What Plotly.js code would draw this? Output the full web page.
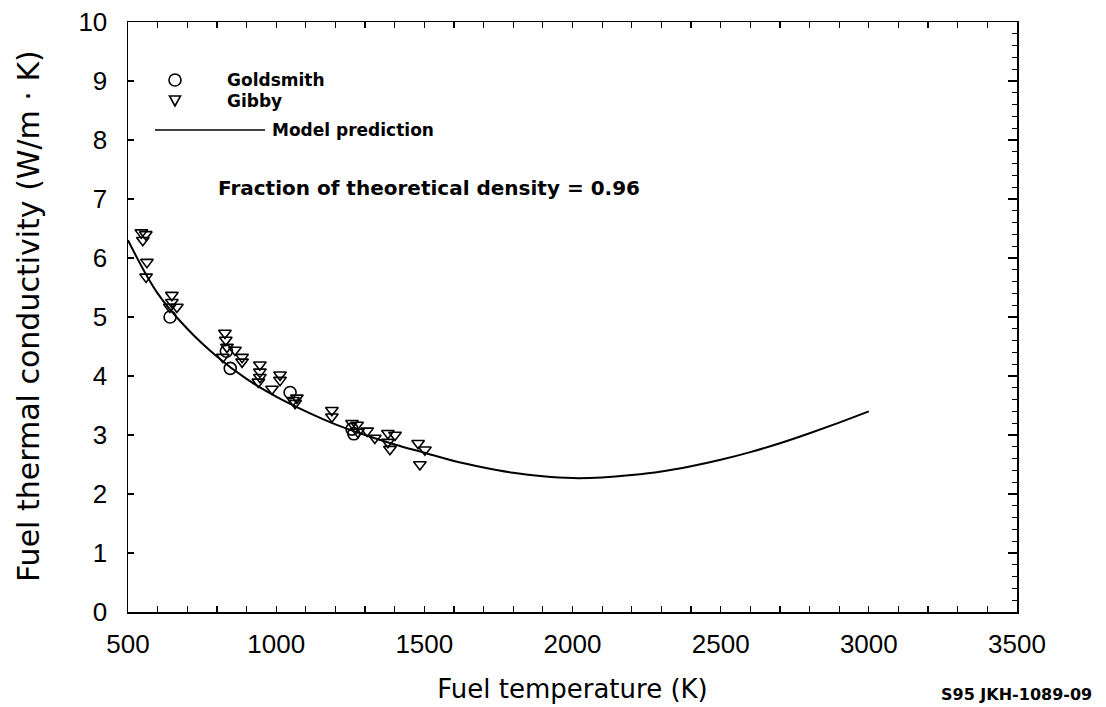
<!DOCTYPE html>
<html>
<head>
<meta charset="utf-8">
<script src="https://cdn.plot.ly/plotly-3.0.1.min.js"></script>
<style>html,body{margin:0;padding:0;background:#fff;}#chart{width:1106px;height:707px;}</style>
</head>
<body>
<div id="chart"></div>
<script>
// Model prediction curve
const modelT = [500,600,700,800,900,1000,1100,1200,1300,1400,1500,1600,1700,1800,1900,2000,2100,2200,2300,2400,2500,2600,2700,2800,2900,3000];
const modelK = [6.30,5.40,4.80,4.33,3.95,3.65,3.40,3.18,3.00,2.84,2.70,2.56,2.45,2.36,2.30,2.27,2.28,2.32,2.38,2.47,2.58,2.71,2.86,3.03,3.21,3.40];

// Goldsmith data (circles)
const goldT = [642,845,832,1047,1256,1262];
const goldK = [5.00,4.13,4.42,3.72,3.10,3.02];

// Gibby data (triangles)
const gibbyT = [545,560,550,564,561,648,648,641,665,827,830,834,820,861,885,885,945,945,945,940,986,1013,1013,1057,1064,1070,1188,1188,1256,1273,1276,1307,1333,1377,1401,1377,1384,1479,1502,1485];
const gibbyK = [6.43,6.40,6.30,5.93,5.68,5.37,5.25,5.17,5.17,4.73,4.61,4.49,4.32,4.44,4.32,4.24,4.19,4.07,3.98,3.90,3.78,4.02,3.93,3.59,3.54,3.63,3.42,3.31,3.20,3.17,3.05,3.07,2.95,3.03,3.00,2.88,2.76,2.86,2.75,2.50];

const xTicks = [500,1000,1500,2000,2500,3000,3500];
const yTicks = [0,1,2,3,4,5,6,7,8,9,10];

const FONT = 'Liberation Sans, Arial, Helvetica, sans-serif';
const WIDE = 'DejaVu Sans, Verdana, sans-serif';

const traces = [
  {x: modelT, y: modelK, mode: 'lines', line: {color: '#000', width: 2, shape: 'spline'}, name: 'Model prediction', showlegend: false, hoverinfo: 'skip'},
  {x: gibbyT, y: gibbyK, mode: 'markers', marker: {symbol: 'triangle-down-open', size: 11, color: '#000', line: {width: 1.6, color: '#000'}}, name: 'Gibby', showlegend: false},
  {x: goldT, y: goldK, mode: 'markers', marker: {symbol: 'circle-open', size: 12, color: '#000', line: {width: 1.6, color: '#000'}}, name: 'Goldsmith', showlegend: false},
  {x: [], y: [], yaxis: 'y2', mode: 'lines', showlegend: false, hoverinfo: 'skip'}
];

// pixel -> paper helpers for legend decoration
const L = 128, R = 1017, T = 22, B = 612;
const px = v => (v - L) / (R - L);
const py = v => (B - v) / (B - T);

const shapes = [
  {type: 'circle', xref: 'paper', yref: 'paper', x0: px(169), x1: px(181), y0: py(86), y1: py(74), line: {color: '#000', width: 1.6}},
  {type: 'path', xref: 'paper', yref: 'paper', path: `M ${px(169.5)} ${py(96)} L ${px(180.5)} ${py(96)} L ${px(175)} ${py(106)} Z`, line: {color: '#000', width: 1.6}},
  {type: 'line', xref: 'paper', yref: 'paper', x0: px(155), x1: px(265), y0: py(130), y1: py(130), line: {color: '#000', width: 1.6}}
];

const annFont = {family: WIDE, size: 17, color: '#000', weight: 'bold'};
const annotations = [
  {xref: 'paper', yref: 'paper', x: px(225), y: py(80), xanchor: 'left', yanchor: 'middle', text: 'Goldsmith', showarrow: false, font: annFont},
  {xref: 'paper', yref: 'paper', x: px(225), y: py(101), xanchor: 'left', yanchor: 'middle', text: 'Gibby', showarrow: false, font: annFont},
  {xref: 'paper', yref: 'paper', x: px(270), y: py(130), xanchor: 'left', yanchor: 'middle', text: 'Model prediction', showarrow: false, font: annFont},
  {xref: 'paper', yref: 'paper', x: px(216), y: py(188), xanchor: 'left', yanchor: 'middle', text: 'Fraction of theoretical density = 0.96', showarrow: false, font: {family: WIDE, size: 20, color: '#000', weight: 'bold'}},
  {xref: 'paper', yref: 'paper', x: px(1094), y: py(695), xanchor: 'right', yanchor: 'middle', text: 'S95 JKH-1089-09', showarrow: false, font: {family: WIDE, size: 16, color: '#000', weight: 'bold'}},
  {xref: 'paper', yref: 'paper', x: px(28), y: py(316), xanchor: 'center', yanchor: 'middle', textangle: -90, text: 'Fuel thermal conductivity (W/m · K)', showarrow: false, font: {family: WIDE, size: 30, color: '#000'}}
];

const layout = {
  width: 1106, height: 707,
  margin: {l: L, r: 1106 - R, t: T, b: 707 - B},
  paper_bgcolor: '#fff', plot_bgcolor: '#fff',
  showlegend: false,
  font: {family: FONT, color: '#000'},
  xaxis: {
    range: [500, 3500], tickvals: xTicks, ticktext: xTicks.map(String),
    showgrid: false, zeroline: false, showline: true, linecolor: '#000', linewidth: 1.5, mirror: 'ticks',
    ticks: 'inside', ticklen: 6, tickwidth: 1.2, tickcolor: '#000',
    minor: {dtick: 100, tick0: 500, ticks: 'inside', ticklen: 6, tickwidth: 1.2, tickcolor: '#000', showgrid: false},
    tickfont: {family: FONT, size: 26, color: '#000'}, ticklabelstandoff: 8,
    title: {text: 'Fuel temperature (K)', font: {family: WIDE, size: 26, color: '#000'}, standoff: 22}
  },
  yaxis: {
    range: [0, 10], tickvals: yTicks, ticktext: yTicks.map(String),
    showgrid: false, zeroline: false, showline: true, linecolor: '#000', linewidth: 1.5,
    ticks: 'inside', ticklen: 6, tickwidth: 1.2, tickcolor: '#000',
    tickfont: {family: FONT, size: 26, color: '#000'}, ticklabelstandoff: 14
  },
  yaxis2: {
    overlaying: 'y', side: 'right', range: [0, 10], dtick: 1, showticklabels: false,
    showgrid: false, zeroline: false, showline: true, linecolor: '#000', linewidth: 1.5,
    ticks: 'inside', ticklen: 9, tickwidth: 1.2, tickcolor: '#000',
    minor: {dtick: 0.2, ticks: 'inside', ticklen: 5, tickwidth: 1, tickcolor: '#000', showgrid: false}
  },
  shapes: shapes,
  annotations: annotations
};

Plotly.newPlot('chart', traces, layout, {displayModeBar: false, staticPlot: true});
</script>
</body>
</html>
